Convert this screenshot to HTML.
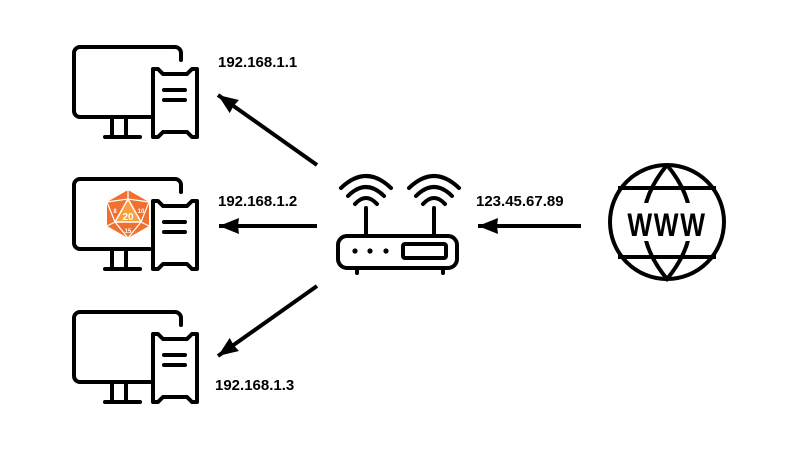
<!DOCTYPE html>
<html><head><style>
html,body{margin:0;padding:0;background:#fff;width:800px;height:450px;overflow:hidden}
svg{display:block}
text{font-family:"Liberation Sans",sans-serif;font-weight:bold;font-size:15px;fill:#000}
</style></head><body>
<svg width="800" height="450" viewBox="0 0 800 450">
<defs>
<g id="pc" fill="none" stroke="#000" stroke-width="4" stroke-linecap="round" stroke-linejoin="round">
<path d="M150,117 H80 a6,6 0 0 1 -6,-6 V53 a6,6 0 0 1 6,-6 H175 a6,6 0 0 1 6,6 V60"/>
<path d="M153,69 H158 L163,74 H187 L192,69 H197 V137 H192 L187,132 H163 L158,137 H153 Z"/>
<path d="M164,90 H185 M164,100 H185"/>
<path d="M112,119 V136 M126,119 V136 M105,137 H140"/>
</g>
<marker id="ah" markerWidth="20" markerHeight="18" refX="20" refY="9" orient="auto" markerUnits="userSpaceOnUse" viewBox="0 0 20 18">
<path d="M20,9 L0,1 L1,9 L0,17 Z" fill="#000"/>
</marker>
</defs>
<use href="#pc"/>
<use href="#pc" y="132"/>
<use href="#pc" y="265"/>
<!-- d20 -->
<g transform="translate(128,214)">
<polygon points="0,-24 21,-12 21,12 0,24 -21,12 -21,-12" fill="#f07030"/>
<polygon points="0,-15 13,8 -13,8" fill="#f8a040" stroke="#fff" stroke-width="1.5"/>
<path d="M0,-24 L0,-15 M21,-12 L13,8 M-21,-12 L-13,8 M0,24 L13,8 M0,24 L-13,8 M21,12 L13,8 M-21,12 L-13,8 M-21,-12 L0,-15 L21,-12" stroke="#fff" stroke-width="1.2" fill="none"/>
<text x="0" y="6" text-anchor="middle" style="font-size:10px;fill:#fff">20</text>
<text x="-13" y="-1" text-anchor="middle" style="font-size:6px;fill:#fff">8</text>
<text x="13" y="-1" text-anchor="middle" style="font-size:6px;fill:#fff">10</text>
<text x="0" y="19" text-anchor="middle" style="font-size:6px;fill:#fff">15</text>
</g>
<!-- router -->
<g fill="none" stroke="#000" stroke-width="4" stroke-linecap="round" stroke-linejoin="round">
<rect x="338" y="236" width="119" height="32" rx="9"/>
<path d="M357,268 V273 M443,268 V273"/>
<path d="M366,208 V235 M434,208 V235"/>
<rect x="403" y="244" width="43" height="14" rx="2"/>
<path d="M341,188 Q366,164 391,188 M348,196 Q366,178 384,196 M355,204 Q366,192 377,204"/>
<path d="M409,188 Q434,164 459,188 M416,196 Q434,178 452,196 M423,204 Q434,192 445,204"/>
</g>
<circle cx="355" cy="251" r="2.6" fill="#000"/>
<circle cx="370" cy="251" r="2.6" fill="#000"/>
<circle cx="386" cy="251" r="2.6" fill="#000"/>
<!-- globe -->
<g fill="none" stroke="#000" stroke-width="4">
<circle cx="667" cy="222" r="57"/>
<path d="M618,188 H716 M618,257 H716"/>
<path d="M667,165 Q620,222 667,279 Q714,222 667,165"/>
</g>
<rect x="620" y="203" width="94" height="38" fill="#fff"/>
<text x="0" y="0" text-anchor="middle" transform="translate(667,236) scale(0.82,1)" style="font-size:32px;letter-spacing:2px">WWW</text>
<!-- arrows -->
<g stroke="#000" stroke-width="4" stroke-linecap="butt">
<line x1="317" y1="165" x2="218" y2="95" marker-end="url(#ah)"/>
<line x1="317" y1="226" x2="219" y2="226" marker-end="url(#ah)"/>
<line x1="317" y1="286" x2="218" y2="356" marker-end="url(#ah)"/>
<line x1="581" y1="226" x2="478" y2="226" marker-end="url(#ah)"/>
</g>
<text x="218" y="67">192.168.1.1</text>
<text x="218" y="206">192.168.1.2</text>
<text x="215" y="390">192.168.1.3</text>
<text x="476" y="206">123.45.67.89</text>
</svg>
</body></html>
